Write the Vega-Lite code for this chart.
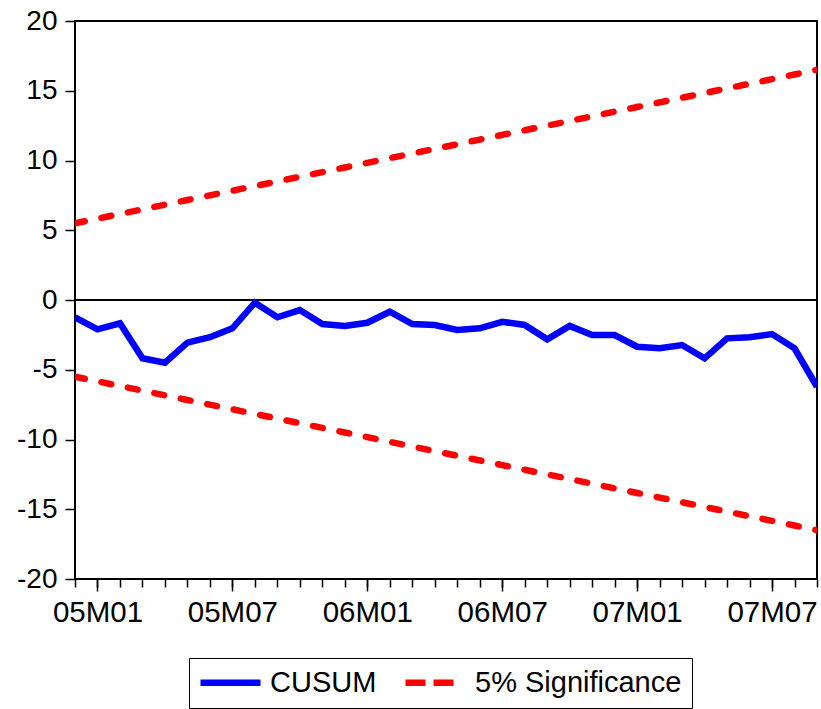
{
  "$schema": "https://vega.github.io/schema/vega-lite/v6.json",
  "autosize": "none",
  "padding": {"left": 75, "top": 21, "right": 4, "bottom": 130},
  "width": 742,
  "height": 558,
  "background": "white",
  "config": {
    "view": {"stroke": "black", "strokeWidth": 2},
    "font": "Liberation Sans",
    "axis": {"domain": false, "grid": false, "tickColor": "black", "tickWidth": 1.5, "labelColor": "black", "labelFont": "Liberation Sans", "labelFontSize": 28, "title": null},
    "legend": {"orient": "none", "legendX": 114, "legendY": 637, "direction": "horizontal", "strokeColor": "black", "padding": 10, "symbolType": "M-1.3,0H4.7", "symbolSize": 400, "symbolStrokeWidth": 6.5, "labelFontSize": 29, "labelFont": "Liberation Sans", "labelColor": "black", "labelOffset": 42, "columnPadding": 15, "labelLimit": 500, "title": null}
  },
  "data": {"values": [
    {"period": "04M12", "cusum": -1.24, "upper": 5.5, "lower": -5.5},
    {"period": "05M01", "cusum": -2.10, "upper": 5.833, "lower": -5.833},
    {"period": "05M02", "cusum": -1.67, "upper": 6.167, "lower": -6.167},
    {"period": "05M03", "cusum": -4.18, "upper": 6.5, "lower": -6.5},
    {"period": "05M04", "cusum": -4.49, "upper": 6.833, "lower": -6.833},
    {"period": "05M05", "cusum": -3.06, "upper": 7.167, "lower": -7.167},
    {"period": "05M06", "cusum": -2.67, "upper": 7.5, "lower": -7.5},
    {"period": "05M07", "cusum": -2.03, "upper": 7.833, "lower": -7.833},
    {"period": "05M08", "cusum": -0.19, "upper": 8.167, "lower": -8.167},
    {"period": "05M09", "cusum": -1.24, "upper": 8.5, "lower": -8.5},
    {"period": "05M10", "cusum": -0.72, "upper": 8.833, "lower": -8.833},
    {"period": "05M11", "cusum": -1.72, "upper": 9.167, "lower": -9.167},
    {"period": "05M12", "cusum": -1.86, "upper": 9.5, "lower": -9.5},
    {"period": "06M01", "cusum": -1.63, "upper": 9.833, "lower": -9.833},
    {"period": "06M02", "cusum": -0.84, "upper": 10.167, "lower": -10.167},
    {"period": "06M03", "cusum": -1.72, "upper": 10.5, "lower": -10.5},
    {"period": "06M04", "cusum": -1.79, "upper": 10.833, "lower": -10.833},
    {"period": "06M05", "cusum": -2.15, "upper": 11.167, "lower": -11.167},
    {"period": "06M06", "cusum": -2.03, "upper": 11.5, "lower": -11.5},
    {"period": "06M07", "cusum": -1.56, "upper": 11.833, "lower": -11.833},
    {"period": "06M08", "cusum": -1.79, "upper": 12.167, "lower": -12.167},
    {"period": "06M09", "cusum": -2.82, "upper": 12.5, "lower": -12.5},
    {"period": "06M10", "cusum": -1.86, "upper": 12.833, "lower": -12.833},
    {"period": "06M11", "cusum": -2.51, "upper": 13.167, "lower": -13.167},
    {"period": "06M12", "cusum": -2.51, "upper": 13.5, "lower": -13.5},
    {"period": "07M01", "cusum": -3.35, "upper": 13.833, "lower": -13.833},
    {"period": "07M02", "cusum": -3.46, "upper": 14.167, "lower": -14.167},
    {"period": "07M03", "cusum": -3.23, "upper": 14.5, "lower": -14.5},
    {"period": "07M04", "cusum": -4.18, "upper": 14.833, "lower": -14.833},
    {"period": "07M05", "cusum": -2.75, "upper": 15.167, "lower": -15.167},
    {"period": "07M06", "cusum": -2.67, "upper": 15.5, "lower": -15.5},
    {"period": "07M07", "cusum": -2.44, "upper": 15.833, "lower": -15.833},
    {"period": "07M08", "cusum": -3.46, "upper": 16.167, "lower": -16.167},
    {"period": "07M09", "cusum": -6.22, "upper": 16.5, "lower": -16.5}
  ]},
  "layer": [
    {
      "mark": {"type": "rule", "color": "black", "strokeWidth": 1.5},
      "encoding": {"y": {"datum": 0, "type": "quantitative", "scale": {"domain": [-20, 20], "nice": false, "zero": false}, "axis": {"values": [-20, -15, -10, -5, 0, 5, 10, 15, 20], "tickSize": 10, "labelPadding": 8, "labelExpr": "datum.value < 0 ? '-' + abs(datum.value) : '' + datum.value"}}}
    },
    {
      "mark": {"type": "line", "strokeWidth": 6.5, "strokeJoin": "miter", "color": "#0000FF", "clip": true},
      "encoding": {
        "x": {"field": "period", "type": "ordinal", "sort": null, "scale": {"type": "point", "padding": 0}, "axis": {"orient": "bottom", "tickSize": 8, "labels": false}},
        "y": {"field": "cusum", "type": "quantitative"}
      }
    },
    {
      "mark": {"type": "line", "strokeWidth": 6.5, "strokeCap": "round", "color": "#FF0000", "strokeDash": [10, 17], "clip": true},
      "encoding": {
        "x": {"field": "period", "type": "ordinal", "sort": null, "axis": {"orient": "bottom", "values": ["05M01", "05M07", "06M01", "06M07", "07M01", "07M07"], "tickSize": 12, "labelPadding": 7, "labelAngle": 0, "labelFontSize": 29.5}},
        "y": {"field": "upper", "type": "quantitative"}
      }
    },
    {
      "mark": {"type": "line", "strokeWidth": 6.5, "strokeCap": "round", "color": "#FF0000", "strokeDash": [10, 17], "clip": true},
      "encoding": {
        "x": {"field": "period", "type": "ordinal", "sort": null, "axis": null},
        "y": {"field": "lower", "type": "quantitative"}
      }
    },
    {
      "transform": [{"filter": "datum.cusum > 100"}],
      "mark": {"type": "line", "strokeWidth": 6.5},
      "encoding": {
        "x": {"field": "period", "type": "ordinal", "sort": null, "axis": null},
        "y": {"field": "cusum", "type": "quantitative"},
        "color": {"datum": "CUSUM", "scale": {"domain": ["CUSUM", "5% Significance"], "range": ["#0000FF", "#FF0000"]}},
        "strokeDash": {"datum": "CUSUM", "scale": {"domain": ["CUSUM", "5% Significance"], "range": [[1, 0], [20, 8, 20, 100]]}}
      }
    },
    {
      "transform": [{"filter": "datum.cusum > 100"}],
      "mark": {"type": "line", "strokeWidth": 6.5},
      "encoding": {
        "x": {"field": "period", "type": "ordinal", "sort": null, "axis": null},
        "y": {"field": "upper", "type": "quantitative"},
        "color": {"datum": "5% Significance"},
        "strokeDash": {"datum": "5% Significance"}
      }
    }
  ],
  "resolve": {"axis": {"x": "independent"}}
}
